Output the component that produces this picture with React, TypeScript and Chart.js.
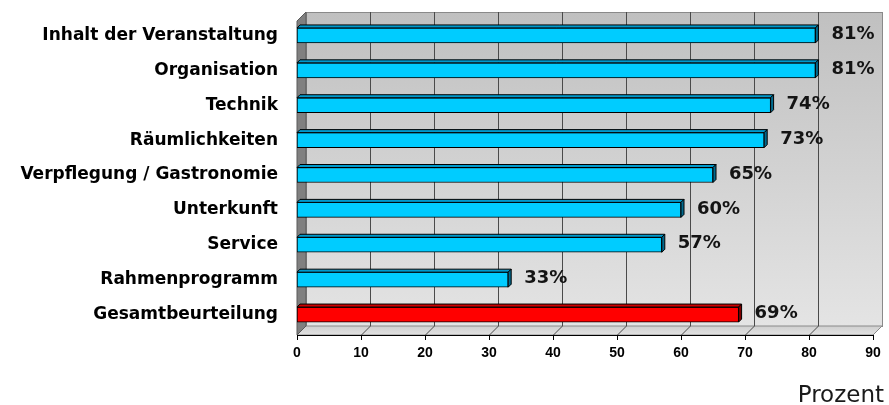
import { useEffect, useRef } from "react";
import { Chart, registerables } from "chart.js";

Chart.register(...registerables);

// Survey results (percent satisfied), top to bottom
const categories = [
  "Inhalt der Veranstaltung",
  "Organisation",
  "Technik",
  "Räumlichkeiten",
  "Verpflegung / Gastronomie",
  "Unterkunft",
  "Service",
  "Rahmenprogramm",
  "Gesamtbeurteilung",
];
const values = [81, 81, 74, 73, 65, 60, 57, 33, 69];
const isTotal = [false, false, false, false, false, false, false, false, true];
const xTicks = [0, 10, 20, 30, 40, 50, 60, 70, 80, 90];
const axisTitle = "Prozent";

const FRONT = { normal: "#00CCFF", total: "#FF0000" };
const TOP = { normal: "#0099CC", total: "#CC0000" };
const SIDE = { normal: "#006A8E", total: "#800000" };

const DEPTH = 9; // wall/floor depth offset
const BAR_DEPTH = 3; // bar extrusion

const frame3d = {
  id: "frame3d",
  beforeDatasetsDraw(chart: any) {
    const { ctx, chartArea: ca } = chart;
    const xs = chart.scales.x;
    const x0 = xs.getPixelForValue(xTicks[0]);
    const x1 = xs.getPixelForValue(xTicks[xTicks.length - 1]);
    const yT = ca.top + 3;
    const yB = ca.bottom + 3;
    const D = DEPTH;
    ctx.save();

    // back wall
    const g = ctx.createLinearGradient(0, yT - D, 0, yB - D);
    g.addColorStop(0, "#c0c0c0");
    g.addColorStop(1, "#e4e4e4");
    ctx.fillStyle = g;
    ctx.fillRect(x0 + D, yT - D, x1 - x0, yB - yT);
    ctx.strokeStyle = "#8a8a8a";
    ctx.lineWidth = 1;
    ctx.strokeRect(x0 + D + 0.5, yT - D + 0.5, x1 - x0, yB - yT);

    // floor
    const fg = ctx.createLinearGradient(0, yB - D, 0, yB);
    fg.addColorStop(0, "#cfcfcf");
    fg.addColorStop(1, "#e2e2e2");
    ctx.fillStyle = fg;
    ctx.beginPath();
    ctx.moveTo(x0, yB);
    ctx.lineTo(x0 + D, yB - D);
    ctx.lineTo(x1 + D, yB - D);
    ctx.lineTo(x1, yB);
    ctx.closePath();
    ctx.fill();
    ctx.strokeStyle = "#8a8a8a";
    ctx.stroke();

    // left wall
    ctx.fillStyle = "#808080";
    ctx.beginPath();
    ctx.moveTo(x0, yT);
    ctx.lineTo(x0 + D, yT - D);
    ctx.lineTo(x0 + D, yB - D);
    ctx.lineTo(x0, yB);
    ctx.closePath();
    ctx.fill();
    ctx.strokeStyle = "#5a5a5a";
    ctx.stroke();

    // grid lines on back wall and floor
    ctx.strokeStyle = "#4a4a4a";
    ctx.lineWidth = 1;
    xTicks.slice(1, -1).forEach((v) => {
      const px = Math.round(xs.getPixelForValue(v)) + 0.5;
      ctx.beginPath();
      ctx.moveTo(px + D, yT - D);
      ctx.lineTo(px + D, yB - D);
      ctx.moveTo(px + D, yB - D);
      ctx.lineTo(px, yB);
      ctx.stroke();
    });

    // front axis line with tick marks
    ctx.strokeStyle = "#000";
    ctx.beginPath();
    ctx.moveTo(x0, yB + 0.5);
    ctx.lineTo(x1, yB + 0.5);
    xTicks.forEach((v) => {
      const px = Math.round(xs.getPixelForValue(v)) + 0.5;
      ctx.moveTo(px, yB);
      ctx.lineTo(px, yB + 5);
    });
    ctx.stroke();
    ctx.restore();
  },
  afterDatasetsDraw(chart: any) {
    const { ctx } = chart;
    const meta = chart.getDatasetMeta(0);
    const d = BAR_DEPTH;
    ctx.save();
    ctx.lineWidth = 1;
    ctx.strokeStyle = "#000";
    meta.data.forEach((bar: any, i: number) => {
      const { x, y, base, height } = bar.getProps(["x", "y", "base", "height"], true);
      const top = y - height / 2;
      const bottom = y + height / 2;
      const key = isTotal[i] ? "total" : "normal";
      // top face
      ctx.fillStyle = TOP[key];
      ctx.beginPath();
      ctx.moveTo(base, top);
      ctx.lineTo(base + d, top - d);
      ctx.lineTo(x + d, top - d);
      ctx.lineTo(x, top);
      ctx.closePath();
      ctx.fill();
      ctx.stroke();
      // side face
      ctx.fillStyle = SIDE[key];
      ctx.beginPath();
      ctx.moveTo(x, top);
      ctx.lineTo(x + d, top - d);
      ctx.lineTo(x + d, bottom - d);
      ctx.lineTo(x, bottom);
      ctx.closePath();
      ctx.fill();
      ctx.stroke();
      // value label
      ctx.fillStyle = "#141414";
      ctx.font = "bold 18px 'DejaVu Sans'";
      ctx.textAlign = "left";
      ctx.textBaseline = "middle";
      ctx.fillText(values[i] + "%", x + 16, y - 1);
    });
    ctx.restore();
  },
  afterDraw(chart: any) {
    const { ctx } = chart;
    ctx.save();
    ctx.fillStyle = "#1a1a1a";
    ctx.font = "23px 'DejaVu Sans'";
    ctx.textAlign = "right";
    ctx.textBaseline = "alphabetic";
    ctx.fillText(axisTitle, chart.width - 5, chart.height - 3);
    ctx.restore();
  },
};

// fixed axis boxes, no extra label overflow padding
const fixBox = (size: { width?: number; height?: number }) => (s: any) => {
  if (size.width !== undefined) s.width = size.width;
  if (size.height !== undefined) s.height = size.height;
  s.paddingTop = 0;
  s.paddingBottom = 0;
  s.paddingLeft = 0;
  s.paddingRight = 0;
};

export default function App() {
  const ref = useRef<HTMLCanvasElement | null>(null);

  useEffect(() => {
    document.body.style.margin = "0";
    if (!ref.current) return;
    const chart = new Chart(ref.current, {
      type: "bar",
      data: {
        labels: categories,
        datasets: [
          {
            data: values,
            backgroundColor: isTotal.map((t) => (t ? FRONT.total : FRONT.normal)),
            borderColor: "#000",
            borderWidth: 1,
            borderSkipped: false,
            barThickness: 15,
          },
        ],
      },
      options: {
        indexAxis: "y",
        animation: false,
        responsive: false,
        maintainAspectRatio: false,
        layout: { padding: { top: 18, right: 16, left: 0, bottom: 0 } },
        plugins: { legend: { display: false }, tooltip: { enabled: false } },
        scales: {
          x: {
            min: 0,
            max: 90,
            afterFit: fixBox({ height: 73 }),
            afterBuildTicks: (s: any) => {
              s.ticks = xTicks.map((v) => ({ value: v }));
            },
            grid: { display: false, drawTicks: false },
            border: { display: false },
            ticks: {
              padding: 13,
              color: "#000",
              font: { family: "'Liberation Sans'", size: 14, weight: "bold" },
            },
          },
          y: {
            afterFit: fixBox({ width: 297 }),
            grid: { display: false, drawTicks: false },
            border: { display: false },
            ticks: {
              padding: 19,
              color: "#000",
              autoSkip: false,
              font: { family: "'DejaVu Sans'", size: 17, weight: "bold" },
            },
          },
        },
      },
      plugins: [frame3d],
    });
    return () => chart.destroy();
  }, []);

  return (
    <div style={{ width: 889, height: 405 }}>
      <canvas ref={ref} width={889} height={405} />
    </div>
  );
}
